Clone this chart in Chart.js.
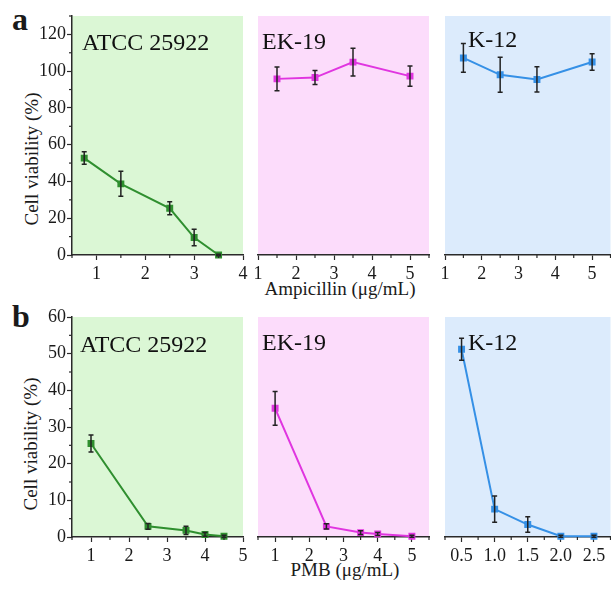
<!DOCTYPE html>
<html>
<head>
<meta charset="utf-8">
<script src="https://cdn.jsdelivr.net/npm/chart.js@4.4.1/dist/chart.umd.min.js"></script>
<style>
html, body { margin: 0; padding: 0; width: 611px; height: 589px; overflow: hidden; background: #fff; }
body { position: relative; font-family: "Liberation Serif", "Times New Roman", serif; color: #1a1a1a; }
canvas { position: absolute; }
.txt { position: absolute; white-space: nowrap; line-height: 1; }
.ytitle { position: absolute; white-space: nowrap; line-height: 1; font-size: 19px; transform: translate(-50%, -50%) rotate(-90deg); }
</style>
</head>
<body>
<div class="txt" style="left:12px;top:3px;font-size:32px;font-weight:bold;">a</div>
<div class="txt" style="left:12px;top:300px;font-size:32px;font-weight:bold;">b</div>
<div class="ytitle" style="left:31px;top:159px;">Cell viability (%)</div>
<div class="ytitle" style="left:30px;top:444px;">Cell viability (%)</div>
<div class="txt" style="left:340px;top:279px;font-size:19px;transform:translateX(-50%);">Ampicillin (μg/mL)</div>
<div class="txt" style="left:345px;top:560px;font-size:19px;transform:translateX(-50%);">PMB (μg/mL)</div>

<canvas id="a1" width="249" height="275" style="left:0px;top:6px"></canvas>
<canvas id="a2" width="183" height="275" style="left:252px;top:6px"></canvas>
<canvas id="a3" width="177" height="275" style="left:439px;top:6px"></canvas>
<canvas id="b1" width="249" height="256" style="left:0px;top:307px"></canvas>
<canvas id="b2" width="183" height="256" style="left:252px;top:307px"></canvas>
<canvas id="b3" width="177" height="256" style="left:439px;top:307px"></canvas>

<script>
// --- data ---
// (a) Ampicillin
var ampDoseATCC = [0.75, 1.5, 2.5, 3, 3.5];
var ampViabATCC = [52.7, 38.7, 25.4, 9.5, 0];
var ampErrATCC  = [3.4, 6.8, 3.5, 4.5, 0.4];

var ampDoseEK = [1.5, 2.5, 3.5, 5];
var ampViabEK = [95.8, 96.5, 104.9, 97.3];
var ampErrEK  = [6.5, 3.8, 7.6, 5.5];

var ampDoseK12 = [1.5, 2.5, 3.5, 5];
var ampViabK12 = [107.2, 98.0, 95.5, 105.0];
var ampErrK12  = [7.8, 9.5, 6.9, 4.5];

// (b) PMB
var pmbDoseATCC = [1, 2.5, 3.5, 4, 4.5];
var pmbViabATCC = [25.5, 2.9, 1.8, 0.7, 0.2];
var pmbErrATCC  = [2.3, 0.8, 1.1, 0.5, 0.3];

var pmbDoseEK = [1, 2.5, 3.5, 4, 5];
var pmbViabEK = [35.1, 2.9, 1.2, 0.8, 0.2];
var pmbErrEK  = [4.6, 0.7, 0.5, 0.4, 0.3];

var pmbDoseK12 = [0.5, 1.0, 1.5, 2.0, 2.5];
var pmbViabK12 = [51.2, 7.6, 3.4, 0.2, 0.2];
var pmbErrK12  = [3.0, 3.6, 2.1, 0.3, 0.3];

// tick labels
var ampTicksATCC = [1, 2, 3, 4];
var ampTicksOther = [1, 2, 3, 4, 5];
var pmbTicksATCC = [1, 2, 3, 4, 5];
var pmbTicksEK = [1, 2, 3, 4, 5];
var pmbTicksK12 = [0.5, 1.0, 1.5, 2.0, 2.5];
var ampYTicks = [0, 20, 40, 60, 80, 100, 120];
var pmbYTicks = [0, 10, 20, 30, 40, 50, 60];

var GREEN = { bg: '#dbf7d5', line: '#2f8f2f' };
var PINK  = { bg: '#fcdcfb', line: '#e035e0' };
var BLUE  = { bg: '#dcebfc', line: '#3590e6' };
var AXIS = '#2a2a2a';
var FONT = '"Liberation Serif", "Times New Roman", serif';

// panel background
var bgPlugin = {
    id: 'panelBg',
    beforeDraw: function(chart, args, opts) {
        var a = chart.chartArea, ctx = chart.ctx;
        ctx.save();
        ctx.fillStyle = opts.color;
        ctx.fillRect(a.left, a.top, a.right - a.left, a.bottom - a.top);
        ctx.restore();
    }
};

// short minor ticks halfway between the labelled ones
function minorValues(ticks, min, max) {
    var step = ticks[1] - ticks[0], out = [];
    for (var v = ticks[0] - step / 2; v <= max + 1e-9; v += step) {
        if (v >= min - 1e-9) out.push(v);
    }
    return out;
}

var minorPlugin = {
    id: 'minorTicks',
    afterDraw: function(chart) {
        var ctx = chart.ctx;
        ctx.save();
        ctx.strokeStyle = AXIS;
        ctx.lineWidth = 1.2;
        ['x', 'y'].forEach(function(key) {
            var s = chart.scales[key];
            if (!s.options.display) return;
            var vals = minorValues(s.ticks.map(function(t) { return t.value; }), s.min, s.max);
            vals.forEach(function(v) {
                var p = s.getPixelForValue(v);
                ctx.beginPath();
                if (key === 'x') { ctx.moveTo(p, s.top); ctx.lineTo(p, s.top + 3); }
                else { ctx.moveTo(s.right, p); ctx.lineTo(s.right - 3, p); }
                ctx.stroke();
            });
        });
        ctx.restore();
    }
};

// error bars with caps
var errorBarPlugin = {
    id: 'errorBars',
    afterDatasetsDraw: function(chart) {
        var ctx = chart.ctx, ys = chart.scales.y;
        chart.data.datasets.forEach(function(ds, di) {
            var meta = chart.getDatasetMeta(di);
            ctx.save();
            ctx.strokeStyle = '#222';
            ctx.lineWidth = 1.5;
            meta.data.forEach(function(pt, i) {
                var v = ds.data[i].y, e = ds.errors[i];
                var top = ys.getPixelForValue(v + e), bot = ys.getPixelForValue(v - e);
                ctx.beginPath();
                ctx.moveTo(pt.x, top); ctx.lineTo(pt.x, bot);
                ctx.moveTo(pt.x - 2.5, top); ctx.lineTo(pt.x + 2.5, top);
                ctx.moveTo(pt.x - 2.5, bot); ctx.lineTo(pt.x + 2.5, bot);
                ctx.stroke();
            });
            ctx.restore();
        });
    }
};

// strain name inside the panel
var namePlugin = {
    id: 'panelName',
    afterDraw: function(chart, args, opts) {
        var a = chart.chartArea, ctx = chart.ctx;
        ctx.save();
        ctx.font = '24px ' + FONT;
        ctx.fillStyle = '#111';
        ctx.textBaseline = 'alphabetic';
        ctx.fillText(opts.text, a.left + opts.dx, a.top + opts.dy);
        ctx.restore();
    }
};

function makePanel(id, cfg) {
    var points = cfg.x.map(function(x, i) { return { x: x, y: cfg.y[i] }; });
    var showY = cfg.yAxis;

    return new Chart(document.getElementById(id), {
        type: 'line',
        data: {
            datasets: [{
                data: points,
                errors: cfg.err,
                borderColor: cfg.color.line,
                backgroundColor: cfg.color.line,
                borderWidth: 2,
                pointStyle: 'rect',
                pointRadius: 3.5,
                pointHoverRadius: 3.5,
                tension: 0,
                clip: false
            }]
        },
        options: {
            responsive: false,
            animation: false,
            events: [],
            layout: { padding: cfg.pad },
            plugins: {
                legend: { display: false },
                tooltip: { enabled: false },
                panelBg: { color: cfg.color.bg },
                panelName: { text: cfg.name, dx: cfg.nameDx, dy: cfg.nameDy }
            },
            scales: {
                x: {
                    type: 'linear',
                    min: cfg.xMin,
                    max: cfg.xMax,
                    afterBuildTicks: function(s) { s.ticks = cfg.xTicks.map(function(v) { return { value: v }; }); },
                    afterFit: function(s) { s.height = 26; s.paddingLeft = 0; s.paddingRight = 0; },
                    border: { display: true, color: AXIS, width: 1.5 },
                    grid: { drawOnChartArea: false, drawTicks: true, tickLength: 5, tickColor: AXIS, tickWidth: 1.2 },
                    ticks: {
                        padding: 3,
                        color: '#1a1a1a',
                        font: { family: FONT, size: 18 },
                        maxRotation: 0,
                        autoSkip: false,
                        callback: function(v) { return cfg.xFixed ? Number(v).toFixed(1) : v; }
                    }
                },
                y: {
                    type: 'linear',
                    display: showY,
                    min: 0,
                    max: cfg.yMax,
                    afterBuildTicks: function(s) { s.ticks = cfg.yTicks.map(function(v) { return { value: v }; }); },
                    afterFit: function(s) { s.width = showY ? 72 : 0; s.paddingTop = 0; s.paddingBottom = 0; },
                    border: { display: true, color: AXIS, width: 1.5 },
                    grid: { drawOnChartArea: false, drawTicks: true, tickLength: 5, tickColor: AXIS, tickWidth: 1.2 },
                    ticks: {
                        padding: 1,
                        color: '#1a1a1a',
                        font: { family: FONT, size: 18 },
                        autoSkip: false
                    }
                }
            }
        },
        plugins: [bgPlugin, errorBarPlugin, minorPlugin, namePlugin]
    });
}

document.addEventListener('DOMContentLoaded', function() {
    var padA1 = { left: 0, right: 6, top: 10, bottom: 0 };
    var padA2 = { left: 6, right: 6, top: 10, bottom: 0 };
    var padA3 = { left: 6, right: 0, top: 10, bottom: 0 };

    makePanel('a1', { x: ampDoseATCC, y: ampViabATCC, err: ampErrATCC, color: GREEN, name: 'ATCC 25922', nameDx: 10, nameDy: 34,
        xMin: 0.5, xMax: 4, xTicks: ampTicksATCC, yAxis: true, yMax: 130, yTicks: ampYTicks, pad: padA1 });
    makePanel('a2', { x: ampDoseEK, y: ampViabEK, err: ampErrEK, color: PINK, name: 'EK-19', nameDx: 4, nameDy: 33,
        xMin: 1, xMax: 5.5, xTicks: ampTicksOther, yAxis: false, yMax: 130, yTicks: ampYTicks, pad: padA2 });
    makePanel('a3', { x: ampDoseK12, y: ampViabK12, err: ampErrK12, color: BLUE, name: 'K-12', nameDx: 23, nameDy: 31,
        xMin: 1, xMax: 5.5, xTicks: ampTicksOther, yAxis: false, yMax: 130, yTicks: ampYTicks, pad: padA3 });

    makePanel('b1', { x: pmbDoseATCC, y: pmbViabATCC, err: pmbErrATCC, color: GREEN, name: 'ATCC 25922', nameDx: 8, nameDy: 35,
        xMin: 0.5, xMax: 5, xTicks: pmbTicksATCC, yAxis: true, yMax: 60, yTicks: pmbYTicks, pad: padA1 });
    makePanel('b2', { x: pmbDoseEK, y: pmbViabEK, err: pmbErrEK, color: PINK, name: 'EK-19', nameDx: 4, nameDy: 33,
        xMin: 0.5, xMax: 5.5, xTicks: pmbTicksEK, yAxis: false, yMax: 60, yTicks: pmbYTicks, pad: padA2 });
    makePanel('b3', { x: pmbDoseK12, y: pmbViabK12, err: pmbErrK12, color: BLUE, name: 'K-12', nameDx: 23, nameDy: 33,
        xMin: 0.25, xMax: 2.75, xTicks: pmbTicksK12, xFixed: true, yAxis: false, yMax: 60, yTicks: pmbYTicks, pad: padA3 });
});
</script>
</body>
</html>
